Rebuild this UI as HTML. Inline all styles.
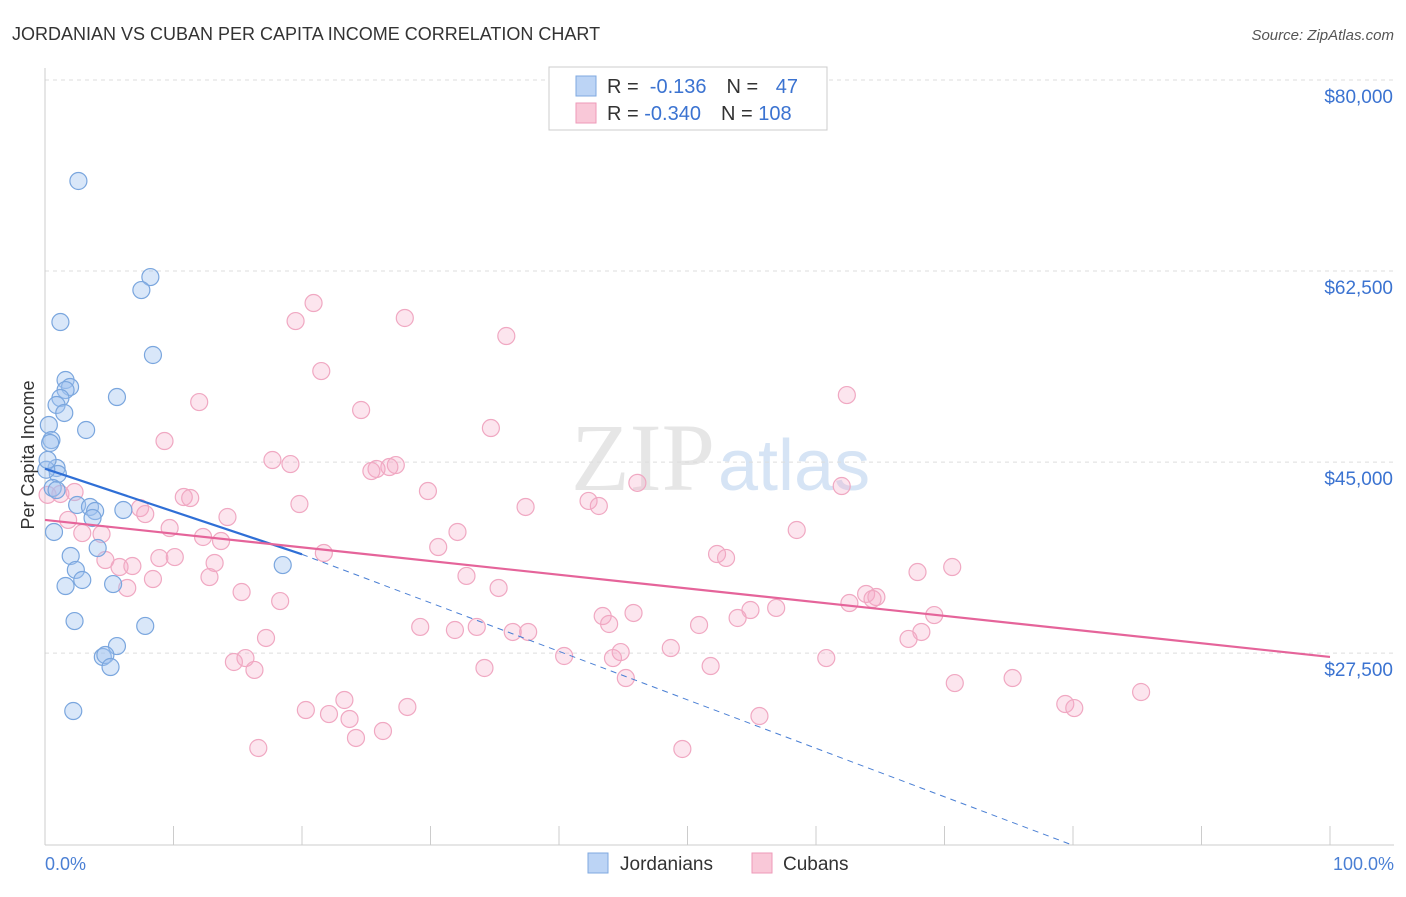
<!DOCTYPE html>
<html><head><meta charset="utf-8"><style>
body{margin:0;background:#fff;font-family:"Liberation Sans",sans-serif}
</style></head><body>
<svg id="chart" width="1406" height="892" xmlns="http://www.w3.org/2000/svg" font-family="Liberation Sans, sans-serif">
<text x="12" y="40" font-size="18" fill="#333">JORDANIAN VS CUBAN PER CAPITA INCOME CORRELATION CHART</text>
<text x="1394" y="40" font-size="15" fill="#555" text-anchor="end" font-style="italic">Source: ZipAtlas.com</text>
<text x="715" y="490" font-size="96" fill="#e6e6e6" text-anchor="end" font-family="Liberation Serif, serif">ZIP</text>
<text x="718" y="490" font-size="72" fill="#d6e4f5">atlas</text>
<g id="grid"></g><g id="axes"></g><g id="marks"></g>
<text transform="translate(34,455) rotate(-90)" font-size="18" fill="#333" text-anchor="middle">Per Capita Income</text>
<text x="45" y="870" font-size="18" fill="#4a7fd4">0.0%</text>
<text x="1394" y="870" font-size="18" fill="#4a7fd4" text-anchor="end">100.0%</text>
<g>
<rect x="549" y="67" width="278" height="63" fill="#fff" stroke="#ccc"/>
<rect x="576" y="76" width="20" height="20" fill="#bcd4f5" stroke="#7fa9e0"/>
<rect x="576" y="103" width="20" height="20" fill="#f9c8d8" stroke="#ee9ab8"/>
<text x="607" y="93" font-size="20" fill="#333">R = <tspan fill="#3b73d1">&#160;-0.136</tspan><tspan dx="20">N = </tspan><tspan fill="#3b73d1" dx="12">47</tspan></text>
<text x="607" y="120" font-size="20" fill="#333">R = <tspan fill="#3b73d1">-0.340</tspan><tspan dx="20">N = </tspan><tspan fill="#3b73d1">108</tspan></text>
</g>
<g>
<rect x="588" y="853" width="20" height="20" fill="#bcd4f5" stroke="#7fa9e0"/>
<text x="620" y="870" font-size="19" fill="#333">Jordanians</text>
<rect x="752" y="853" width="20" height="20" fill="#f9c8d8" stroke="#ee9ab8"/>
<text x="783" y="870" font-size="19" fill="#333">Cubans</text>
</g>
</svg>
<script>
const yTicks=[80000,62500,45000,27500];
const yTickLabels=["$80,000","$62,500","$45,000","$27,500"];
const blueX=[2.6,8.2,7.5,1.2,8.4,1.6,1.95,1.6,5.6,1.2,0.9,1.5,3.2,0.3,0.5,0.4,0.9,1.0,0.6,0.9,2.5,3.5,3.9,3.7,6.1,0.7,4.1,2.0,2.4,2.9,1.6,5.3,18.5,2.3,7.8,5.6,4.5,4.7,5.1,2.2,0.1,0.2];
const blueY=[70750,61950,60760,57830,54810,52520,51880,51600,50960,50870,50230,49500,47940,48400,47020,46750,44460,43910,42630,42440,41070,40890,40520,39880,40610,38600,37130,36400,35120,34200,33650,33830,35570,30440,29990,28150,27150,27330,26230,22200,44300,45200];
const pinkX=[20.9,19.5,28.0,35.9,21.5,62.4,12.0,24.6,34.7,9.3,17.7,19.1,27.3,26.8,25.8,25.4,46.1,62.0,29.8,10.8,11.3,42.3,43.1,19.8,37.4,7.4,7.8,14.2,1.8,1.2,2.3,4.4,2.9,9.7,12.3,13.7,32.1,58.5,30.6,21.7,52.3,53.0,4.7,8.9,10.1,5.8,6.8,13.2,70.6,67.9,32.8,8.4,12.8,6.4,15.3,35.3,63.9,64.7,64.4,18.3,62.6,56.9,54.9,45.8,43.4,69.2,53.9,43.9,29.2,50.9,31.9,33.6,36.4,37.6,68.2,17.2,67.2,48.7,44.8,40.4,44.2,60.8,15.6,14.7,34.2,51.8,16.3,45.2,75.3,70.8,85.3,23.3,79.4,80.1,20.3,28.2,22.1,23.7,55.6,26.3,24.2,16.6,49.6,0.2];
const pinkY=[59570,57920,58200,56550,53340,51140,50500,49770,48120,46930,45190,44820,44730,44550,44370,44180,43100,42810,42350,41800,41710,41440,40980,41160,40890,40790,40240,39970,39700,42080,42260,38410,38500,38960,38140,37770,38600,38780,37220,36670,36580,36220,36030,36210,36300,35390,35480,35760,35390,34930,34570,34290,34470,33470,33100,33470,32920,32640,32460,32270,32090,31640,31450,31180,30900,30990,30720,30170,29900,30080,29620,29900,29440,29440,29440,28890,28800,27970,27600,27240,27050,27050,27050,26690,26140,26320,25960,25220,25220,24760,23940,23210,22840,22470,22290,22570,21920,21470,21740,20370,19730,18810,18720,42000];
const blueTrend=[0,44400,20,36550];
const blueDash=[20,36550,80,9900];
const pinkTrend=[0,39700,100,27150];
const NS="http://www.w3.org/2000/svg";
const xs=v=>45+v*12.85;
const ys=v=>80+(80000-v)/91.6;
function mk(tag,attrs,parent){const e=document.createElementNS(NS,tag);for(const k in attrs)e.setAttribute(k,attrs[k]);document.getElementById(parent).appendChild(e);return e;}
yTicks.forEach((t,i)=>{
 const l=mk('line',{x1:45,x2:1394,y1:ys(t),y2:ys(t),stroke:'#ddd','stroke-dasharray':'4,4'},'grid');
 
 
 const tx=mk('text',{x:1393,y:ys(t)+23,'font-size':19,fill:'#3b73d1','text-anchor':'end'},'grid');
 tx.textContent=yTickLabels[i];
 
 
});
const ax=mk('line',{x1:45,x2:45,y1:68,y2:845,stroke:'#ccc'},'axes');


const bx=mk('line',{x1:45,x2:1394,y1:845,y2:845,stroke:'#ccc'},'axes');


for(let i=0;i<=10;i++){const t=mk('line',{x1:xs(i*10),x2:xs(i*10),y1:826,y2:845,stroke:'#ccc'},'axes');
 
 }
pinkX.forEach((v,i)=>{const c=mk('circle',{cx:xs(v),cy:ys(pinkY[i]),r:8.5,fill:'rgba(245,170,198,0.3)',stroke:'#f0a8c2','stroke-width':1.2},'marks');
 
 });
blueX.forEach((v,i)=>{const c=mk('circle',{cx:xs(v),cy:ys(blueY[i]),r:8.5,fill:'rgba(160,196,240,0.4)',stroke:'#7aa6de','stroke-width':1.2},'marks');
 
 });
const d=mk('line',{x1:xs(blueDash[0]),y1:ys(blueDash[1]),x2:xs(blueDash[2]),y2:ys(blueDash[3]),stroke:'#4a7fd4','stroke-width':1,'stroke-dasharray':'6,5'},'marks');


const b=mk('line',{x1:xs(blueTrend[0]),y1:ys(blueTrend[1]),x2:xs(blueTrend[2]),y2:ys(blueTrend[3]),stroke:'#2f6fd6','stroke-width':2.2},'marks');


const p=mk('line',{x1:xs(pinkTrend[0]),y1:ys(pinkTrend[1]),x2:xs(pinkTrend[2]),y2:ys(pinkTrend[3]),stroke:'#e5649a','stroke-width':2.2},'marks');


</script>
</body></html>
